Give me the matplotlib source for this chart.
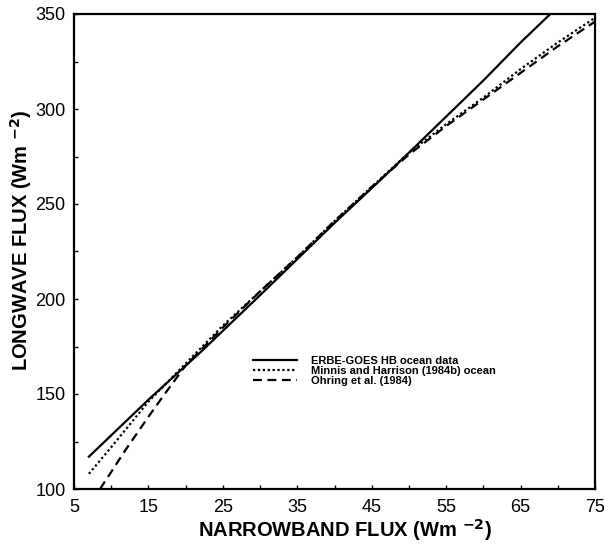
import matplotlib
matplotlib.use("Agg")
import matplotlib.pyplot as plt
from matplotlib.ticker import MultipleLocator

plt.rcParams['font.family'] = ['Liberation Sans', 'DejaVu Sans']

# ERBE-GOES HB ocean data (solid)
erbe_x = [7, 15, 22, 30, 40, 46, 50, 55, 60, 65, 69]
erbe_y = [117, 147, 172, 202, 240, 262, 277, 296, 315, 335, 350]

# Minnis and Harrison (1984b) ocean (dotted)
minnis_x = [7, 10, 15, 20, 25, 30, 35, 40, 45, 50, 55, 60, 65, 70, 75]
minnis_y = [108, 122, 146, 166, 186, 204, 222, 241, 259, 277, 292, 306, 321, 335, 348]

# Ohring et al. (1984) (dashed)
ohring_x = [8.5, 10, 12, 15, 17, 20, 25, 30, 35, 40, 45, 50, 55, 60, 65, 70, 75]
ohring_y = [100, 109, 121, 138, 149, 165, 185, 204, 222, 241, 259, 276, 291, 305, 319, 333, 346]

labels = ["ERBE-GOES HB ocean data", "Minnis and Harrison (1984b) ocean", "Ohring et al. (1984)"]
x_ticks = [5, 15, 25, 35, 45, 55, 65, 75]
y_ticks = [100, 150, 200, 250, 300, 350]

fig = plt.figure(figsize=(6.05, 5.45), dpi=100)
ax = fig.add_axes([74/605, 1-489/545, (595-74)/605, (489-14)/545])

ax.plot(erbe_x, erbe_y, color='black', lw=1.6, ls='-', label=labels[0])
ax.plot(minnis_x, minnis_y, color='black', lw=1.6, ls=(0, (1, 1.2)), label=labels[1])
ax.plot(ohring_x, ohring_y, color='black', lw=1.6, ls=(0, (4, 2.5)), label=labels[2])

ax.set_xlim(5, 75)
ax.set_ylim(100, 350)
ax.set_xticks(x_ticks)
ax.set_yticks(y_ticks)
ax.xaxis.set_minor_locator(MultipleLocator(5))
ax.yaxis.set_minor_locator(MultipleLocator(25))
ax.tick_params(which='both', direction='in', length=3, width=1, labelsize=13)
ax.tick_params(axis='x', pad=7)
ax.tick_params(axis='y', pad=6)
for s in ax.spines.values():
    s.set_linewidth(1.6)

ax.set_xlabel("NARROWBAND FLUX (Wm $^{\\mathbf{-2}}$)", fontsize=14.5, fontweight='bold')
ax.set_ylabel("LONGWAVE FLUX (Wm $^{\\mathbf{-2}}$)", fontsize=14.5, fontweight='bold')
ax.xaxis.set_label_coords((345-74)/521, (489-517)/475)
ax.yaxis.set_label_coords((34-74)/521, 1-(240-14)/475)

leg = ax.legend(loc='upper left', bbox_to_anchor=((253-74)/521, 1-(356-14)/475),
                frameon=False, prop={'size': 8, 'weight': 'bold'},
                handlelength=4.0, handletextpad=1.2, labelspacing=0.0,
                borderaxespad=0, borderpad=0)

fig.savefig("out.png", dpi=100)
